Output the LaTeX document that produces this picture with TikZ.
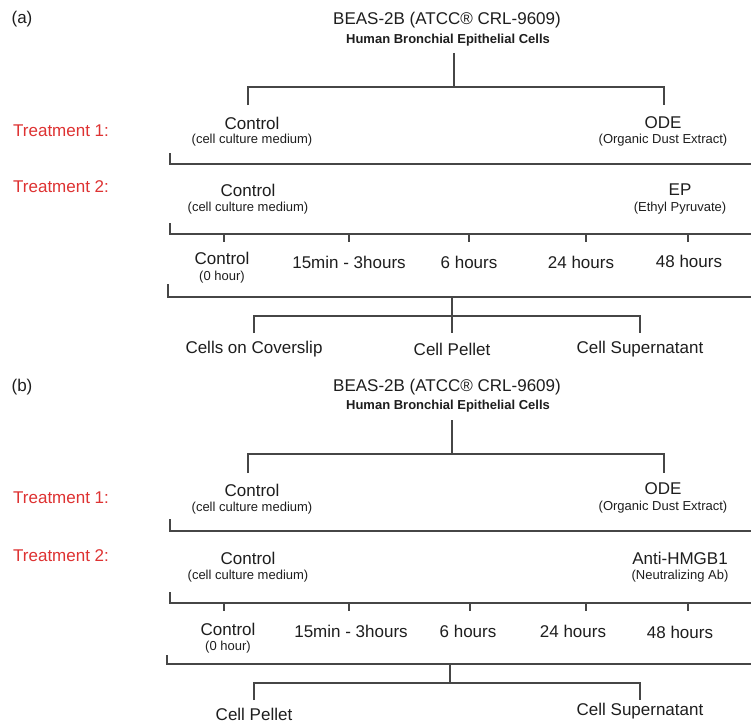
\documentclass[tikz,border=0pt]{standalone}
\usepackage{fontspec}
\setmainfont{Liberation Sans}
\definecolor{txt}{RGB}{30,30,30}
\definecolor{lnc}{RGB}{70,70,70}
\definecolor{redt}{RGB}{222,50,50}
\newcommand{\bigf}{\fontsize{17}{20}\selectfont}
\newcommand{\smf}{\fontsize{13}{15}\selectfont}
\tikzset{
  lbl/.style={font=\bigf, text=txt, inner sep=0pt},
  sub/.style={font=\smf, text=txt, inner sep=0pt},
  subb/.style={font=\smf\bfseries, text=txt, inner sep=0pt},
  trt/.style={font=\bigf, text=redt, inner sep=0pt, anchor=west},
  ln/.style={draw=lnc, line width=1.5pt, line join=miter}
}
\begin{document}
\begin{tikzpicture}[x=1pt,y=-1pt]
\useasboundingbox[fill=white] (0,0) rectangle (751,725);

% ================= Panel (a) =================
\node[lbl] (pa) at (22,19) {(a)};
\node[lbl] (atitle) at (447,20) {BEAS-2B (ATCC® CRL-9609)};
\node[subb] (asub) at (448,40) {Human Bronchial Epithelial Cells};
\coordinate (aTop) at (454,53);
\coordinate (aJ) at (454,87);
\coordinate (aL) at (248,87);
\coordinate (aR) at (664,87);
\coordinate (aLd) at (248,105);
\coordinate (aRd) at (664,105);
\draw[ln] (aTop) -- (aJ);
\draw[ln] (aLd) -- (aL) -- (aR) -- (aRd);

\node[trt] (at1) at (13,131) {Treatment 1:};
\node[lbl] (actl1) at (252,123) {Control};
\node[sub] (actl1s) at (252,140) {(cell culture medium)};
\node[lbl] (aode) at (663,123) {ODE};
\node[sub] (aodes) at (663,140) {(Organic Dust Extract)};

\coordinate (aB1a) at (170,153);
\coordinate (aB1b) at (170,164);
\coordinate (aB1c) at (751,164);
\draw[ln] (aB1a) -- (aB1b) -- (aB1c);

\node[trt] (at2) at (13,187) {Treatment 2:};
\node[lbl] (actl2) at (248,190) {Control};
\node[sub] (actl2s) at (248,208) {(cell culture medium)};
\node[lbl] (aep) at (680,190) {EP};
\node[sub] (aeps) at (680,208) {(Ethyl Pyruvate)};

\coordinate (aB2a) at (170,223);
\coordinate (aB2b) at (170,234);
\coordinate (aB2c) at (751,234);
\draw[ln] (aB2a) -- (aB2b) -- (aB2c);
\foreach \x/\n in {224/1,349/2,469/3,586/4,688/5}{
  \coordinate (aT\n u) at (\x,234);
  \coordinate (aT\n d) at (\x,242);
  \draw[ln] (aT\n u) -- (aT\n d);
}
\node[lbl] (ah0) at (222,258) {Control};
\node[sub] (ah0s) at (222,277) {(0 hour)};
\node[lbl] (ah1) at (349,262) {15min - 3hours};
\node[lbl] (ah2) at (469,262) {6 hours};
\node[lbl] (ah3) at (581,262) {24 hours};
\node[lbl] (ah4) at (689,261) {48 hours};

\coordinate (aB3a) at (168,284);
\coordinate (aB3b) at (168,297);
\coordinate (aB3c) at (751,297);
\draw[ln] (aB3a) -- (aB3b) -- (aB3c);

\node[lbl] (acov) at (254,349) {Cells on Coverslip};
\node[lbl] (apel) at (452,349) {Cell Pellet};
\node[lbl] (asup) at (640,349) {Cell Supernatant};
\coordinate (aCt) at (452,297);
\coordinate (aCb) at (452,333);
\coordinate (aBl) at (254,316);
\coordinate (aBr) at (640,316);
\coordinate (aBld) at (254,333);
\coordinate (aBrd) at (640,333);
\draw[ln] (aCt) -- (aCb);
\draw[ln] (aBld) -- (aBl) -- (aBr) -- (aBrd);

% ================= Panel (b) =================
\node[lbl] (pb) at (22,387) {(b)};
\node[lbl] (btitle) at (447,387) {BEAS-2B (ATCC® CRL-9609)};
\node[subb] (bsub) at (448,406) {Human Bronchial Epithelial Cells};
\coordinate (bTop) at (452,420);
\coordinate (bJ) at (452,454);
\coordinate (bL) at (248,454);
\coordinate (bR) at (664,454);
\coordinate (bLd) at (248,473);
\coordinate (bRd) at (664,473);
\draw[ln] (bTop) -- (bJ);
\draw[ln] (bLd) -- (bL) -- (bR) -- (bRd);

\node[trt] (bt1) at (13,498) {Treatment 1:};
\node[lbl] (bctl1) at (252,490) {Control};
\node[sub] (bctl1s) at (252,508) {(cell culture medium)};
\node[lbl] (bode) at (663,489) {ODE};
\node[sub] (bodes) at (663,507) {(Organic Dust Extract)};

\coordinate (bB1a) at (170,519);
\coordinate (bB1b) at (170,531);
\coordinate (bB1c) at (751,531);
\draw[ln] (bB1a) -- (bB1b) -- (bB1c);

\node[trt] (bt2) at (13,556) {Treatment 2:};
\node[lbl] (bctl2) at (248,558) {Control};
\node[sub] (bctl2s) at (248,576) {(cell culture medium)};
\node[lbl] (bab) at (680,558) {Anti-HMGB1};
\node[sub] (babs) at (680,576) {(Neutralizing Ab)};

\coordinate (bB2a) at (170,592);
\coordinate (bB2b) at (170,603);
\coordinate (bB2c) at (751,603);
\draw[ln] (bB2a) -- (bB2b) -- (bB2c);
\foreach \x/\n in {224/1,349/2,470/3,586/4,688/5}{
  \coordinate (bT\n u) at (\x,603);
  \coordinate (bT\n d) at (\x,611);
  \draw[ln] (bT\n u) -- (bT\n d);
}
\node[lbl] (bh0) at (228,629) {Control};
\node[sub] (bh0s) at (228,647) {(0 hour)};
\node[lbl] (bh1) at (351,631) {15min - 3hours};
\node[lbl] (bh2) at (468,631) {6 hours};
\node[lbl] (bh3) at (573,631) {24 hours};
\node[lbl] (bh4) at (680,632) {48 hours};

\coordinate (bB3a) at (167,655);
\coordinate (bB3b) at (167,664);
\coordinate (bB3c) at (751,664);
\draw[ln] (bB3a) -- (bB3b) -- (bB3c);

\node[lbl] (bpel) at (254,714) {Cell Pellet};
\node[lbl] (bsup) at (640,711) {Cell Supernatant};
\coordinate (bCt) at (450,664);
\coordinate (bCb) at (450,683);
\coordinate (bBl) at (254,683);
\coordinate (bBr) at (640,683);
\coordinate (bBld) at (254,700);
\coordinate (bBrd) at (640,700);
\draw[ln] (bCt) -- (bCb);
\draw[ln] (bBld) -- (bBl) -- (bBr) -- (bBrd);
\end{tikzpicture}
\end{document}
